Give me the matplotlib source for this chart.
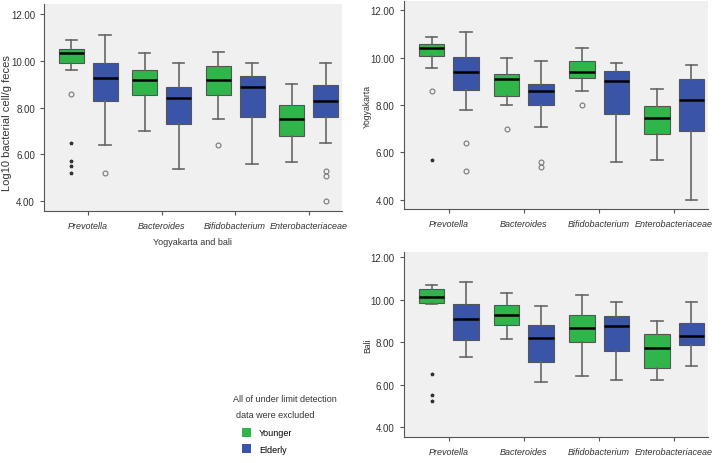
import matplotlib.pyplot as plt
from matplotlib.patches import Patch

categories = ["Prevotella", "Bacteroides", "Bifidobacterium", "Enterobacteriaceae"]
groups = ["Younger", "Elderly"]

# each box: (whisker low, Q1, median, Q3, whisker high)
# panel 1: Yogyakarta and bali
all_young = [(9.59, 9.90, 10.33, 10.50, 10.90), (7.00, 8.55, 9.20, 9.59, 10.32),
             (7.50, 8.55, 9.17, 9.79, 10.40), (5.68, 6.80, 7.50, 8.12, 9.00)]
all_old = [(6.41, 8.30, 9.25, 9.90, 11.12), (5.39, 7.29, 8.40, 8.90, 9.92),
           (5.60, 7.60, 8.90, 9.35, 9.92), (6.49, 7.60, 8.30, 8.98, 9.92)]
all_young_out = [[8.60], [], [6.41], []]
all_old_out = [[5.20], [], [], [5.30, 5.09, 4.00]]
all_young_ext = [[6.48, 5.70, 5.49, 5.20], [], [], []]
all_old_ext = [[], [], [], []]

# panel 2: Yogyakarta
yog_young = [(9.58, 10.09, 10.39, 10.58, 10.88), (7.99, 8.38, 9.10, 9.29, 9.99),
             (8.59, 9.14, 9.39, 9.84, 10.39), (5.69, 6.79, 7.45, 7.94, 8.69)]
yog_old = [(7.80, 8.65, 9.39, 10.02, 11.08), (7.09, 7.99, 8.59, 8.89, 9.88),
           (5.61, 7.64, 9.00, 9.43, 9.79), (4.00, 6.89, 8.20, 9.08, 9.68)]
yog_young_out = [[8.59], [7.00], [7.99], []]
yog_old_out = [[6.40, 5.20], [5.61, 5.40], [], []]
yog_young_ext = [[5.69], [], [], []]
yog_old_ext = [[], [], [], []]

# panel 3: Bali
bali_young = [(9.79, 9.85, 10.10, 10.48, 10.70), (8.13, 8.80, 9.30, 9.73, 10.31),
              (6.43, 8.00, 8.66, 9.27, 10.20), (6.21, 6.80, 7.75, 8.38, 9.00)]
bali_old = [(7.31, 8.09, 9.10, 9.79, 10.81), (6.12, 7.07, 8.20, 8.83, 9.69),
            (6.21, 7.59, 8.75, 9.24, 9.90), (6.90, 7.86, 8.30, 8.88, 9.90)]
bali_young_out = [[], [], [], []]
bali_old_out = [[], [], [], []]
bali_young_ext = [[6.51, 5.54, 5.22], [], [], []]
bali_old_ext = [[], [], [], []]

green = "#2fb54a"
blue = "#3a54a8"
grey_txt = "#333333"
plt.rcParams["font.family"] = "Liberation Sans"
fs = 6.5


def stats(boxes, outs):
    res = []
    for (lo, q1, med, q3, hi), fl in zip(boxes, outs):
        res.append(dict(whislo=lo, q1=q1, med=med, q3=q3, whishi=hi, fliers=fl))
    return res


def panel(ax, young, old, yout, oout, yext, oext, ylim, ylabel, ylab_size, ylab_pos, xlabel=None):
    off, w = 0.23, 0.34
    for data, outs, ext, col, sgn in [(young, yout, yext, green, -1), (old, oout, oext, blue, 1)]:
        pos = [i + sgn * off for i in range(len(categories))]
        ax.bxp(stats(data, outs), positions=pos, widths=w, patch_artist=True,
               boxprops=dict(facecolor=col, edgecolor="#555555", linewidth=0.8),
               medianprops=dict(color="black", linewidth=1.8),
               whiskerprops=dict(color="#666666", linewidth=1.2),
               capprops=dict(color="#666666", linewidth=1.2),
               capwidths=w * 0.45,
               flierprops=dict(marker="o", markersize=3.5, markerfacecolor="none",
                               markeredgecolor="#777777", markeredgewidth=0.8),
               manage_ticks=False)
        for p, e in zip(pos, ext):
            if e:
                ax.plot([p] * len(e), e, linestyle="none", marker="*", markersize=2.5,
                        color="#333333")
    ax.set_facecolor("#f0f0f0")
    ax.set_ylim(*ylim)
    ax.set_xlim(-0.6, 3.45)
    ax.set_yticks([4, 6, 8, 10, 12])
    ax.set_yticklabels(["4.00", "6.00", "8.00", "10.00", "12.00"], fontsize=7, color=grey_txt)
    ax.set_xticks(range(len(categories)))
    ax.set_xticklabels(categories, fontsize=fs, style="italic", color=grey_txt)
    ax.tick_params(axis="both", length=3, color="#555555", width=0.8)
    ax.tick_params(axis="x", pad=4)
    for s in ["top", "right"]:
        ax.spines[s].set_visible(False)
    for s in ["left", "bottom"]:
        ax.spines[s].set_color("#555555")
        ax.spines[s].set_linewidth(0.8)
    ax.set_ylabel(ylabel, fontsize=ylab_size, color=grey_txt)
    ax.yaxis.set_label_coords(*ylab_pos)
    if xlabel:
        ax.set_xlabel(xlabel, fontsize=fs, color=grey_txt, labelpad=5)


fig = plt.figure(figsize=(7.21, 4.64), dpi=100)
ax1 = fig.add_axes([0.061, 0.543, 0.413, 0.447])
ax2 = fig.add_axes([0.560, 0.547, 0.422, 0.449])
ax3 = fig.add_axes([0.560, 0.056, 0.422, 0.399])

panel(ax1, all_young, all_old, all_young_out, all_old_out, all_young_ext, all_old_ext,
      (3.57, 12.45), "Log10 bacterial cell/g feces", 8.0, (-0.108, 0.43), "Yogyakarta and bali")
panel(ax2, yog_young, yog_old, yog_young_out, yog_old_out, yog_young_ext, yog_old_ext,
      (3.6, 12.4), "Yogyakarta", 6.2, (-0.105, 0.5))
panel(ax3, bali_young, bali_old, bali_young_out, bali_old_out, bali_young_ext, bali_old_ext,
      (3.55, 12.24), "Bali", 6.2, (-0.105, 0.5))

fig.text(0.323, 0.138, "All of under limit detection", fontsize=fs, color=grey_txt, va="center")
fig.text(0.327, 0.105, "data were excluded", fontsize=fs, color=grey_txt, va="center")
handles = [Patch(facecolor=green, edgecolor="none"), Patch(facecolor=blue, edgecolor="none")]
fig.legend(handles, groups, loc="upper left", bbox_to_anchor=(0.329, 0.085),
           frameon=False, fontsize=fs, handlelength=1.0, handleheight=1.1,
           handletextpad=0.9, labelspacing=0.75, borderpad=0)

fig.savefig("out.png", dpi=100)
